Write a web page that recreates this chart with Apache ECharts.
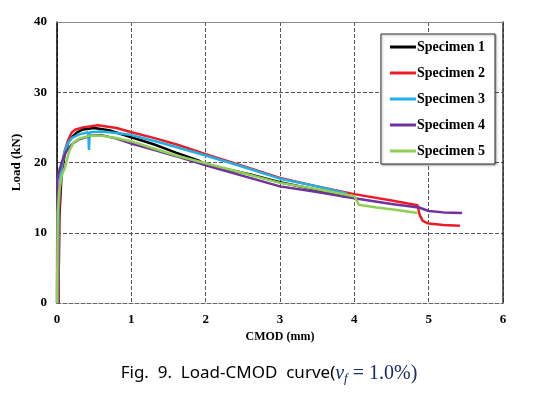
<!DOCTYPE html>
<html>
<head>
<meta charset="utf-8">
<script src="https://cdn.jsdelivr.net/npm/echarts@6/dist/echarts.min.js"></script>
<style>
html,body{margin:0;padding:0;background:#fff;}
#c{width:538px;height:403px;}
</style>
</head>
<body>
<div id="c"></div>
<script>
var names = ['Specimen 1','Specimen 2','Specimen 3','Specimen 4','Specimen 5'];
var colors = ['#000000','#ed1c24','#1fb0e6','#7030a0','#8fd052'];
var xTicks = [0,1,2,3,4,5,6];
var yTicks = [0,10,20,30,40];

var cmod1 = [0.02,0.03,0.06,0.1,0.15,0.2,0.27,0.35,0.5,0.7,1.0,1.3,1.6,1.9,2.0,2.3,2.6,3.0,3.4,3.9];
var load1 = [0,12,18,21,22.8,23.6,24.3,24.7,24.9,24.6,23.6,22.6,21.4,20.3,19.7,19.0,18.3,17.2,16.3,15.1];

var cmod2 = [0.02,0.03,0.05,0.1,0.15,0.2,0.25,0.35,0.55,0.8,1.0,1.3,1.6,2.0,2.5,3.0,3.5,4.0,4.5,4.85,4.88,4.92,5.0,5.2,5.42];
var load2 = [0,13,18,21.5,23.2,24.3,24.7,25.0,25.3,24.9,24.3,23.5,22.6,21.2,19.5,17.8,16.6,15.5,14.6,13.9,12.5,11.7,11.3,11.1,11.0];

var cmod3 = [0.01,0.02,0.05,0.1,0.15,0.2,0.3,0.42,0.43,0.44,0.6,0.8,1.0,1.3,1.6,2.0,2.5,3.0,3.5,3.9];
var load3 = [0,14,18.5,21.5,22.8,23.5,24.0,24.3,21.8,24.3,24.4,24.2,23.9,23.1,22.2,21.0,19.4,17.7,16.6,15.6];

var cmod4 = [0.0,0.005,0.02,0.05,0.08,0.12,0.2,0.3,0.45,0.6,0.8,1.0,1.3,1.6,2.0,2.5,3.0,3.5,4.0,4.5,4.87,5.0,5.2,5.45];
var load4 = [0,17.5,18.5,19.5,20.5,21.5,22.6,23.3,23.8,23.9,23.4,22.7,21.8,20.9,19.6,18.1,16.6,15.8,14.9,14.1,13.6,13.1,12.9,12.8];

var cmod5 = [0.0,0.01,0.03,0.06,0.11,0.16,0.22,0.3,0.44,0.6,0.8,1.0,1.3,1.6,2.0,2.5,3.0,3.5,4.0,4.03,4.06,4.3,4.6,4.85];
var load5 = [0,13,16,18,19.4,21.5,22.8,23.4,23.8,23.8,23.5,23.0,22.0,21.0,19.9,18.5,17.1,16.2,15.2,14.6,14.0,13.6,13.2,12.8];

var cmods = [cmod1,cmod2,cmod3,cmod4,cmod5];
var loads = [load1,load2,load3,load4,load5];

function pairs(xs, ys){ return xs.map(function(x,i){ return [x, ys[i]]; }); }

var serifBold = {fontFamily:'Liberation Serif', fontWeight:'bold', fontSize:13, color:'#000'};

var series = names.map(function(n,i){
  return {
    name: n, type:'line', data: pairs(cmods[i], loads[i]),
    xAxisIndex:0, yAxisIndex:0,
    showSymbol:false, symbol:'none',
    lineStyle:{color:colors[i], width:2.5},
    itemStyle:{color:colors[i]},
    z: 2 + i
  };
});

var chart = echarts.init(document.getElementById('c'));
chart.setOption({
  animation:false,
  backgroundColor:'#fff',
  grid:{left:57, right:35, top:22, bottom:100, show:false},
  title:{
    text:'{a|Fig.  9.  Load-CMOD  curve(}{m|v}{s|f}{e| = 1.0%)}',
    left:'center', top:357,
    textStyle:{
      fontWeight:'normal',
      rich:{
        a:{fontFamily:'Noto Sans', fontWeight:'normal', fontSize:17, color:'#000'},
        m:{fontFamily:'Liberation Serif', fontWeight:'normal', fontStyle:'italic', fontSize:20, color:'#1a2a6a'},
        s:{fontFamily:'Liberation Serif', fontWeight:'normal', fontStyle:'italic', fontSize:13, color:'#1a2a6a', padding:[10,0,0,0]},
        e:{fontFamily:'Liberation Serif', fontWeight:'normal', fontSize:20, color:'#1a2a6a'}
      }
    }
  },
  legend:{
    orient:'vertical',
    right:43, top:34,
    data:names,
    itemWidth:26, itemHeight:3,
    itemGap:12,
    padding:[6,10,6,9],
    backgroundColor:'#fff',
    borderColor:'#333', borderWidth:1,
    shadowColor:'rgba(0,0,0,0.35)', shadowBlur:2, shadowOffsetX:1, shadowOffsetY:1,
    icon:'rect',
    textStyle:{fontFamily:'Liberation Serif', fontWeight:'bold', fontSize:14, color:'#000', padding:[0,0,0,-4]}
  },
  xAxis:[{
    type:'value', min:0, max:6, interval:1,
    name:'CMOD (mm)', nameLocation:'middle', nameGap:24,
    nameTextStyle:{fontFamily:'Liberation Serif', fontWeight:'bold', fontSize:12, color:'#000'},
    axisLine:{show:true, lineStyle:{color:'#666', type:'dashed', width:1}},
    axisTick:{show:false},
    axisLabel:Object.assign({margin:10}, serifBold),
    splitLine:{show:true, lineStyle:{color:'#555', type:'dashed', width:1}}
  },{
    type:'value', min:0, max:6, interval:1, position:'top',
    axisLine:{show:true, onZero:false, lineStyle:{color:'#888', width:1}},
    axisTick:{show:false}, axisLabel:{show:false}, splitLine:{show:false}
  }],
  yAxis:[{
    type:'value', min:0, max:40, interval:10,
    name:'Load (kN)', nameLocation:'middle', nameGap:31, nameRotate:90,
    nameTextStyle:{fontFamily:'Liberation Serif', fontWeight:'bold', fontSize:13, color:'#000'},
    axisLine:{show:true, onZero:false, lineStyle:{color:'#000', width:1.5}},
    axisTick:{show:false},
    axisLabel:Object.assign({margin:10}, serifBold),
    splitLine:{show:true, lineStyle:{color:'#555', type:'dashed', width:1}}
  },{
    type:'value', min:0, max:40, interval:10, position:'right',
    axisLine:{show:true, onZero:false, lineStyle:{color:'#333', width:1.5}},
    axisTick:{show:false}, axisLabel:{show:false}, splitLine:{show:false}
  }],
  series:series
});
</script>
</body>
</html>
